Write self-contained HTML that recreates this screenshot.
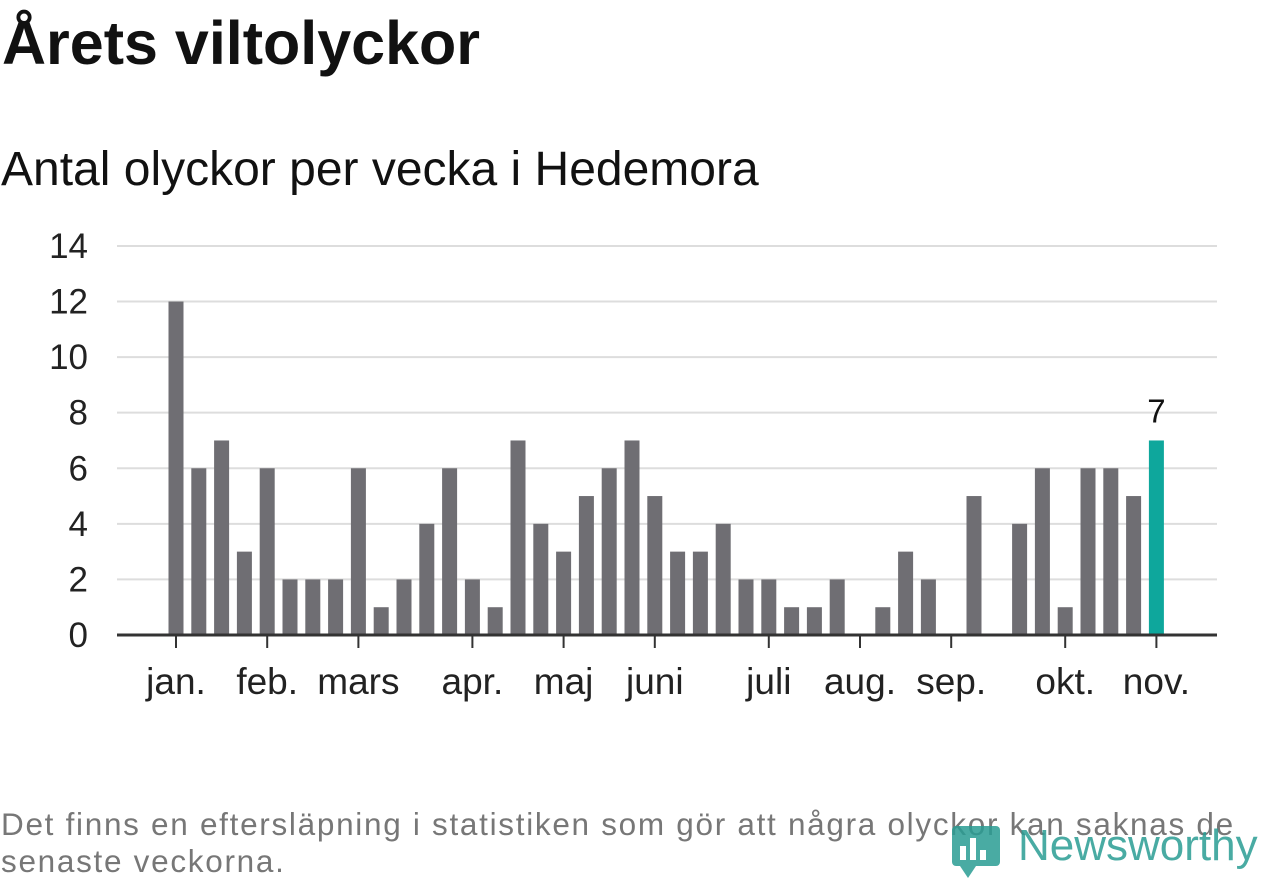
<!DOCTYPE html>
<html><head><meta charset="utf-8"><style>
body{margin:0;width:1262px;height:879px;background:#fff;overflow:hidden;font-family:"Liberation Sans",sans-serif;position:relative}
#title{position:absolute;left:2px;top:8px;font-size:61px;font-weight:bold;color:#111;margin:0;letter-spacing:0px}
#sub{position:absolute;left:1px;top:142px;font-size:48px;color:#111}
#note{position:absolute;left:1px;top:806px;font-size:31.5px;line-height:37px;color:#777;width:1258px;letter-spacing:1.7px}
svg{position:absolute;left:0;top:0}
</style></head><body>
<h1 id="title">Årets viltolyckor</h1>
<div id="sub">Antal olyckor per vecka i Hedemora</div>
<svg id="chart" width="1262" height="879"></svg>
<div id="note">Det finns en eftersläpning i statistiken som gör att några olyckor kan saknas de senaste veckorna.</div>
<svg width="1262" height="879" style="pointer-events:none">
<g opacity="0.85"><rect x="952" y="826" width="48" height="40" rx="4" fill="#2a9d94"/><polygon points="960,866 976,866 968,878" fill="#2a9d94"/>
<rect x="960" y="846" width="6" height="14" fill="#fff"/><rect x="970" y="838" width="6" height="22" fill="#fff"/><rect x="980" y="850" width="6" height="10" fill="#fff"/>
<text x="1018" y="860" font-size="44" font-family="Liberation Sans, sans-serif" fill="#2a9d94">Newsworthy</text></g>
</svg>
<script>
const values=[12,6,7,3,6,2,2,2,6,1,2,4,6,2,1,7,4,3,5,6,7,5,3,3,4,2,2,1,1,2,0,1,3,2,0,5,0,4,6,1,6,6,5,7];
const monthLabels=["jan.","feb.","mars","apr.","maj","juni","juli","aug.","sep.","okt.","nov."];
const monthIdx=[0,4,8,13,17,21,26,30,34,39,43];
const yTicks=[0,2,4,6,8,10,12,14];
const NS="http://www.w3.org/2000/svg",svg=document.getElementById('chart');
const y=v=>635-v*27.79, x=i=>176+i*22.8;
function mk(t,a){const e=document.createElementNS(NS,t);for(const k in a)e.setAttribute(k,a[k]);svg.appendChild(e);return e;}
yTicks.forEach(t=>{
 const l=mk('line',{x1:117,x2:1217,y1:y(t),y2:y(t),stroke:t?'#ddd':'#333','stroke-width':t?2:3});
 
 
 const tx=mk('text',{x:88,y:y(t)+12,'text-anchor':'end','font-size':35,fill:'#222'});tx.textContent=t;
 
 
});
values.forEach((v,i)=>{
 const last=i===values.length-1;
 const r=mk('rect',{x:x(i)-7.5,y:y(v),width:15,height:y(0)-y(v),fill:last?'#0ea79c':'#6f6e73'});
 
 
 if(last){const t=mk('text',{x:x(i),y:y(v)-18,'text-anchor':'middle','font-size':33,fill:'#111'});t.textContent=v;
 
 }
});
mk('line',{x1:117,x2:1217,y1:635,y2:635,stroke:'#333','stroke-width':3});
monthIdx.forEach((m,k)=>{
 const tk=mk('line',{x1:x(m),x2:x(m),y1:636,y2:648,stroke:'#333','stroke-width':2});
 
 
 const t=mk('text',{x:x(m),y:694,'text-anchor':'middle','font-size':37,fill:'#222'});t.textContent=monthLabels[k];
 
 
});
</script>
</body></html>
